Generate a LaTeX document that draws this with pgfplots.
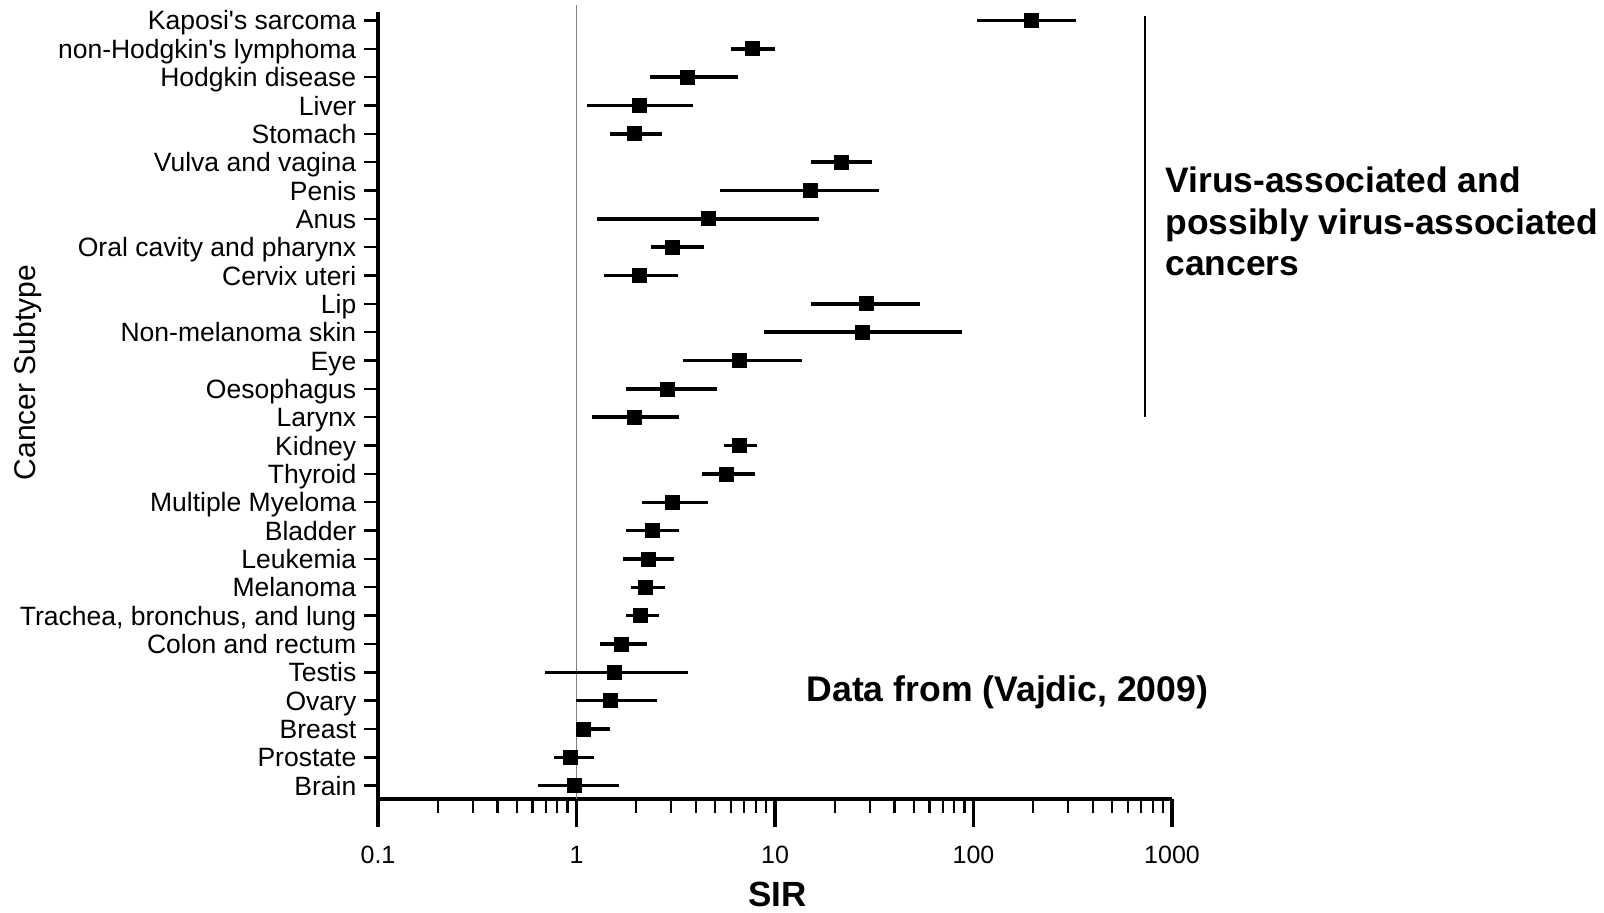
\documentclass[border=0pt]{standalone}
\usepackage{fontspec}
\setmainfont{Liberation Sans}
\usepackage{pgfplots}
\usepackage{pgfplotstable}
\pgfplotsset{compat=1.18}

\pgfplotstableread{
y est lo hi
28 195 104 330
27 7.7 6.0 10.0
26 3.6 2.34 6.5
25 2.07 1.13 3.88
24 1.95 1.47 2.70
23 21.6 15.1 30.9
22 15.1 5.27 33.6
21 4.62 1.27 16.7
20 3.03 2.37 4.37
19 2.08 1.37 3.26
18 28.8 15.2 54.0
17 27.7 8.83 87.1
16 6.6 3.43 13.6
15 2.87 1.78 5.09
14 1.95 1.20 3.28
13 6.62 5.53 8.16
12 5.72 4.30 7.90
11 3.03 2.14 4.58
10 2.41 1.78 3.30
9 2.31 1.71 3.11
8 2.22 1.89 2.79
7 2.09 1.77 2.61
6 1.68 1.32 2.26
5 1.56 0.69 3.65
4 1.48 0.99 2.53
3 1.08 1.00 1.47
2 0.93 0.77 1.22
1 0.98 0.64 1.63
}\sirdata

\begin{document}
\begin{tikzpicture}
\path[use as bounding box] (0,0) rectangle (802pt,456.5pt);
\begin{axis}[
  at={(189pt,57pt)}, anchor=south west,
  scale only axis, width=397pt, height=393.5pt,
  xmode=log, xmin=0.1, xmax=1000, ymin=0.53, ymax=28.3,
  axis lines*=left,
  axis line style={line width=2.2pt, black},
  clip=false,
  xtick={0.1,1,10,100,1000},
  xticklabels={0.1,1,10,100,1000},
  minor xtick={0.2,0.3,0.4,0.5,0.6,0.7,0.8,0.9,2,3,4,5,6,7,8,9,20,30,40,50,60,70,80,90,200,300,400,500,600,700,800,900},
  ytick={1,...,28},
  minor ytick={1,...,28},
  yticklabels={Brain,Prostate,Breast,Ovary,Testis,Colon and rectum,{Trachea, bronchus, and lung},Melanoma,Leukemia,Bladder,Multiple Myeloma,Thyroid,Kidney,Larynx,Oesophagus,Eye,Non-melanoma skin,Lip,Cervix uteri,Oral cavity and pharynx,Anus,Penis,Vulva and vagina,Stomach,Liver,Hodgkin disease,non-Hodgkin\textquotesingle s lymphoma,Kaposi\textquotesingle s sarcoma},
  tick align=outside,
  major tick length=14pt, minor tick length=7pt,
  major tick style={line width=1.8pt, black},
  minor tick style={line width=1.2pt, black},
  major y tick style={draw=none},
  yticklabel style={font=\fontsize{13.25}{15}\selectfont, anchor=east, text height=9.5pt, text depth=0pt, xshift=6.6pt},
  xticklabel style={font=\fontsize{12.5}{14}\selectfont, yshift=-6pt},
]
\draw[gray, line width=0.5pt] (axis cs:1,0.53) -- (axis cs:1,28.55);
\addplot[only marks, mark=square*, mark size=3.5pt, black,
  error bars/.cd, x dir=both, x explicit, error mark=none,
  error bar style={line width=1.75pt, black}]
  table[x=est, y=y,
    x error minus expr=\thisrow{est}-\thisrow{lo},
    x error plus expr=\thisrow{hi}-\thisrow{est}] {\sirdata};
\draw[line width=1pt] (axis cs:731,14.01) -- (axis cs:731,28.15);
\end{axis}
\node[font=\bfseries\fontsize{17.7}{20.7}\selectfont, anchor=north west, align=left, inner sep=0pt]
  at (582.5pt,373.2pt) {Virus-associated and\\possibly virus-associated\\cancers};
\node[font=\bfseries\fontsize{17.8}{21}\selectfont, anchor=base, inner sep=0pt]
  at (503.7pt,105.9pt) {Data from (Vajdic, 2009)};
\node[font=\bfseries\fontsize{17.5}{21}\selectfont, anchor=base, inner sep=0pt]
  at (388.75pt,3.15pt) {SIR};
\node[font=\fontsize{15}{18}\selectfont, rotate=90, inner sep=0pt]
  at (14pt,270.25pt) {Cancer Subtype};
\end{tikzpicture}
\end{document}
